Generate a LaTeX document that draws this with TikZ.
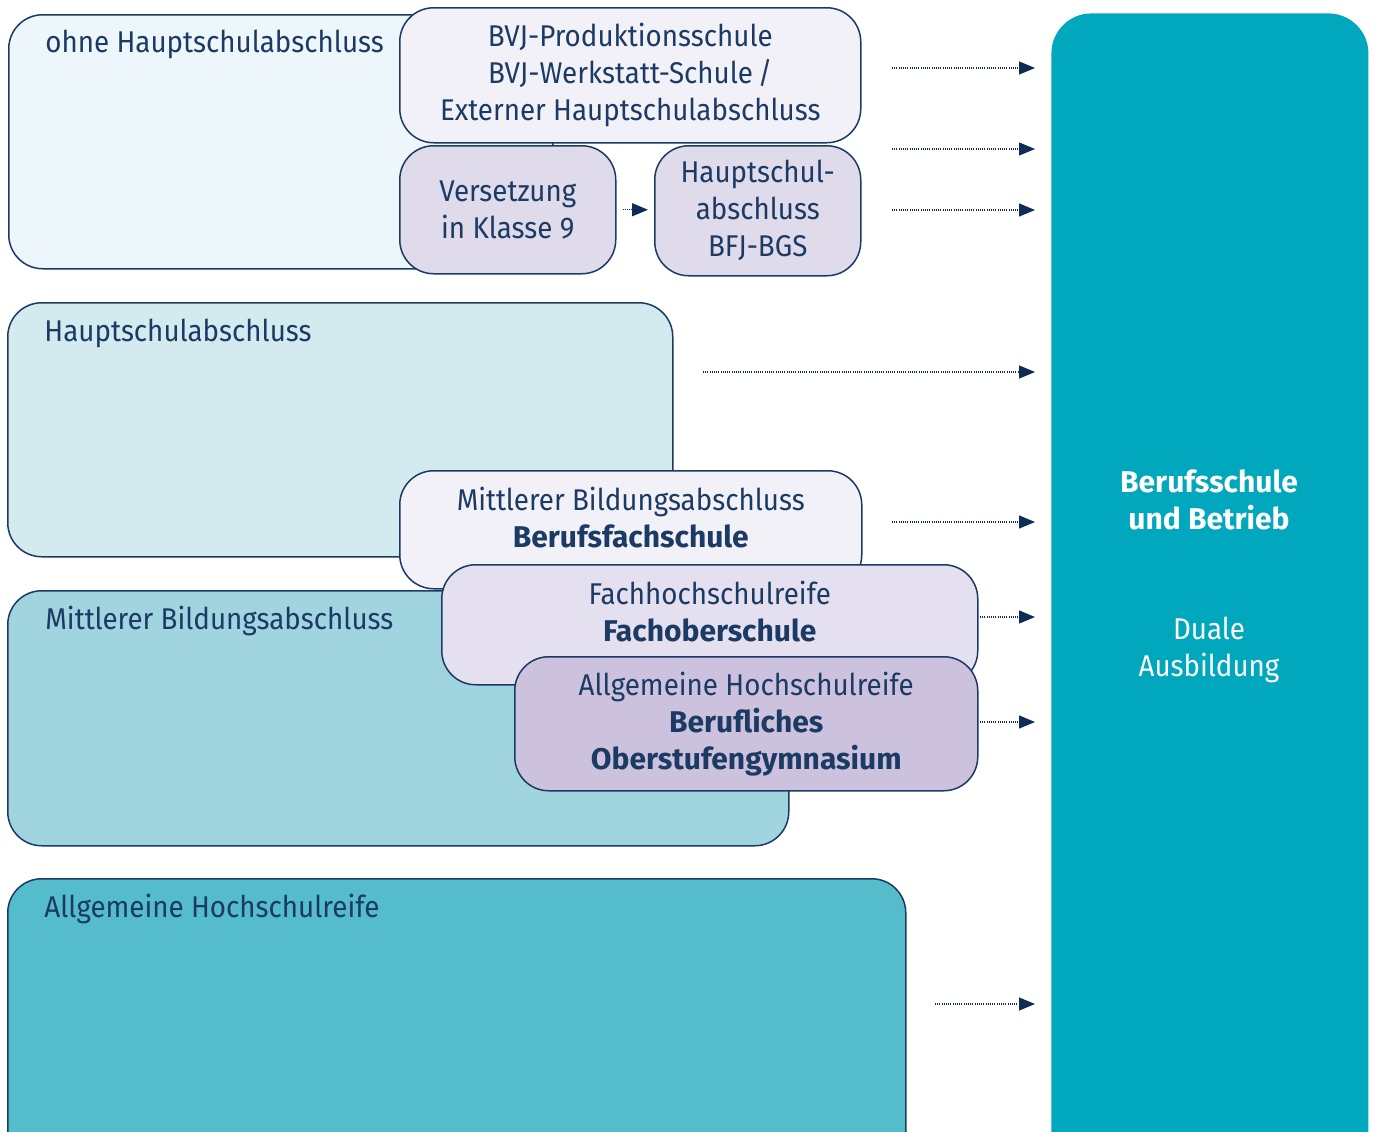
\documentclass[tikz,border=0pt]{standalone}
\usepackage{fontspec}
\setmainfont{Fira Sans}[UprightFeatures={FakeStretch=0.925}]
\definecolor{navy}{RGB}{27,58,100}
\definecolor{darknavy}{RGB}{14,44,86}
\definecolor{ohnefill}{RGB}{237,246,250}
\definecolor{hauptfill}{RGB}{211,234,238}
\definecolor{mittelfill}{RGB}{160,213,223}
\definecolor{abifill}{RGB}{85,188,203}
\definecolor{dualfill}{RGB}{0,167,189}
\definecolor{lilac1}{RGB}{243,241,248}
\definecolor{lilac2}{RGB}{224,219,235}
\definecolor{lilac3}{RGB}{228,224,239}
\definecolor{lilac4}{RGB}{205,194,222}
\usetikzlibrary{arrows.meta, positioning}

\tikzset{
  stage/.style={draw=navy, line width=0.75pt, rounded corners=17pt, anchor=north west,
    inner sep=0pt, align=center, text=navy, font=\fontsize{15}{18.5}\selectfont},
  stagelabel/.style={anchor=base west, inner sep=0pt, text=navy, font=\fontsize{15}{18.5}\selectfont},
  stagetext/.style={inner sep=0pt, align=center, text=navy, font=\fontsize{15}{18.5}\selectfont},
  flow/.style={darknavy, line width=0.6pt, dash pattern=on 0.5pt off 0.6pt, -{Triangle[length=8pt, width=6.5pt]}}
}

\begin{document}
\begin{tikzpicture}[x=0.5pt, y=-0.5pt]
  \useasboundingbox (0,0) rectangle (1375,1131);
  \clip (0,0) rectangle (1375,1131);

  % ohne Hauptschulabschluss
  \node[stage, fill=ohnefill, minimum width=272pt, minimum height=127pt] (ohne) at (8,14) {};
  \node[stagelabel] (ohne-l) at ([xshift=18.5pt, yshift=-19pt]ohne.north west) {ohne Hauptschulabschluss};
  \node[stage, fill=lilac1, minimum width=230.5pt, minimum height=67.5pt] (bvj) at (399,7)
    {BVJ-Produktionsschule\\BVJ-Werkstatt-Schule\,/\\Externer Hauptschulabschluss};
  \node[stage, fill=lilac2, minimum width=108pt, minimum height=64pt] (vers) at (399,145)
    {Versetzung\\in Klasse 9};
  \node[stage, fill=lilac2, minimum width=103pt, minimum height=65pt] (bfj) at (654,145)
    {Hauptschul-\\abschluss\\BFJ-BGS};
  \draw[flow] ([xshift=3pt]vers.east) -- ([xshift=-3pt]vers.east -| bfj.west);

  % Hauptschulabschluss
  \node[stage, fill=hauptfill, minimum width=332.5pt, minimum height=127pt] (haupt) at (7,302) {};
  \node[stagelabel] (haupt-l) at ([xshift=18.5pt, yshift=-19.5pt]haupt.north west) {Hauptschulabschluss};

  % Mittlerer Bildungsabschluss
  \node[stage, fill=mittelfill, minimum width=390.5pt, minimum height=127.5pt] (mittel) at (7,590) {};
  \node[stagelabel] (mittel-l) at ([xshift=19pt, yshift=-19.5pt]mittel.north west) {Mittlerer Bildungsabschluss};

  \node[stage, fill=lilac1, minimum width=231pt, minimum height=59pt] (bfs) at (399,470) {};
  \node[stagetext] (bfs-t) at ([yshift=6pt]bfs.center) {Mittlerer Bildungsabschluss\\\textbf{Berufsfachschule}};
  \node[stage, fill=lilac3, minimum width=268pt, minimum height=60pt] (fos) at (441,564) {};
  \node[stagetext] (fos-t) at ([yshift=6.5pt]fos.center) {Fachhochschulreife\\\textbf{Fachoberschule}};
  \node[stage, fill=lilac4, minimum width=231.5pt, minimum height=67pt] (bog) at (514,656)
    {Allgemeine Hochschulreife\\\textbf{Berufliches}\\\textbf{Oberstufengymnasium}};

  % Allgemeine Hochschulreife
  \node[stage, fill=abifill, minimum width=449pt, minimum height=150pt] (abi) at (7,878) {};
  \node[stagelabel] (abi-l) at ([xshift=18.5pt, yshift=-19.5pt]abi.north west) {Allgemeine Hochschulreife};

  % Duale Ausbildung
  \node[anchor=north west, fill=dualfill, rounded corners=20pt, minimum width=158.5pt, minimum height=600pt] (dual) at (1051,13) {};
  \node[stagetext, text=white] (dual-t1) at (1209,500) {\textbf{Berufsschule}\\\textbf{und Betrieb}};
  \node[stagetext, text=white] (dual-t2) at (1209,650) {Duale\\Ausbildung};

  % Pfeile
  \foreach \sx/\sy/\nm in {892/68/p1, 892/149/p2, 892/210/p3, 703/372/p4, 892/522/p5, 980/617/p6, 980/722/p7, 935/1004/p8} {
    \coordinate (\nm) at (\sx,\sy);
    \draw[flow] (\nm) -- ([xshift=-8pt]\nm -| dual.west);
  }
\end{tikzpicture}
\end{document}
